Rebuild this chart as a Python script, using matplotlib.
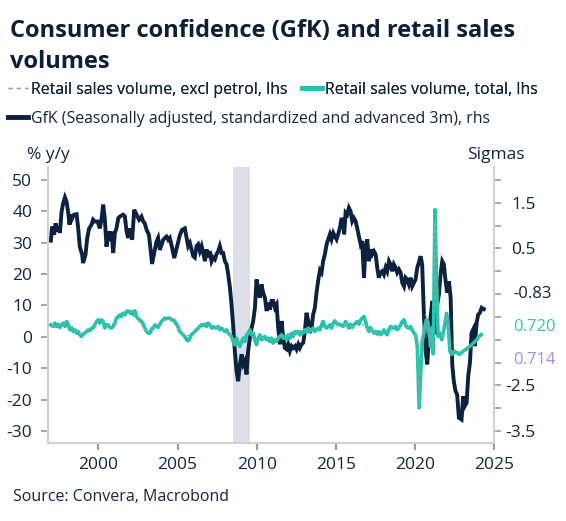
import matplotlib
matplotlib.use('Agg')
import matplotlib.pyplot as plt
from matplotlib.lines import Line2D
from matplotlib.ticker import FixedLocator, FuncFormatter

# GfK consumer confidence, standardized, advanced 3m (sigmas, rhs)
gfk_years = [1996.99, 1997.07, 1997.20, 1997.29, 1997.41, 1997.50, 1997.56, 1997.67, 1997.77, 1997.88,
             1997.98, 1998.08, 1998.17, 1998.26, 1998.34, 1998.45, 1998.62, 1998.72, 1998.82, 1998.97,
             1999.03, 1999.18, 1999.29, 1999.41, 1999.56, 1999.66, 1999.77, 1999.94, 2000.09, 2000.20,
             2000.30, 2000.40, 2000.51, 2000.61, 2000.72, 2000.83, 2000.93, 2001.04, 2001.14, 2001.25,
             2001.35, 2001.56, 2001.67, 2001.78, 2001.88, 2001.99, 2002.13, 2002.26, 2002.41, 2002.57,
             2002.72, 2002.83, 2002.93, 2003.04, 2003.19, 2003.31, 2003.39, 2003.52, 2003.67, 2003.77,
             2003.88, 2003.99, 2004.09, 2004.20, 2004.30, 2004.41, 2004.51, 2004.66, 2004.79, 2004.89,
             2005.00, 2005.15, 2005.29, 2005.46, 2005.57, 2005.67, 2005.78, 2005.88, 2005.99, 2006.09,
             2006.20, 2006.30, 2006.41, 2006.52, 2006.62, 2006.73, 2006.83, 2006.93, 2007.04, 2007.15,
             2007.25, 2007.36, 2007.46, 2007.57, 2007.67, 2007.78, 2007.88, 2007.99, 2008.10, 2008.20,
             2008.31, 2008.41, 2008.51, 2008.62, 2008.73, 2008.83, 2008.94, 2009.05, 2009.15, 2009.25,
             2009.36, 2009.46, 2009.57, 2009.68, 2009.78, 2009.89, 2009.99, 2010.10, 2010.20, 2010.31,
             2010.41, 2010.52, 2010.63, 2010.73, 2010.83, 2010.94, 2011.04, 2011.15, 2011.26, 2011.36,
             2011.47, 2011.57, 2011.68, 2011.78, 2011.89, 2011.99, 2012.10, 2012.21, 2012.31, 2012.42,
             2012.52, 2012.63, 2012.73, 2012.84, 2012.94, 2013.05, 2013.15, 2013.26, 2013.36, 2013.47,
             2013.57, 2013.68, 2013.79, 2013.89, 2014.00, 2014.10, 2014.20, 2014.31, 2014.42, 2014.52,
             2014.63, 2014.73, 2014.84, 2014.94, 2015.05, 2015.15, 2015.26, 2015.37, 2015.47, 2015.53,
             2015.62, 2015.72, 2015.83, 2015.93, 2016.04, 2016.14, 2016.25, 2016.35, 2016.46, 2016.57,
             2016.67, 2016.78, 2016.88, 2016.99, 2017.09, 2017.20, 2017.30, 2017.41, 2017.52, 2017.62,
             2017.72, 2017.83, 2017.93, 2018.04, 2018.15, 2018.25, 2018.36, 2018.46, 2018.57, 2018.67,
             2018.78, 2018.88, 2018.99, 2019.10, 2019.20, 2019.31, 2019.41, 2019.51, 2019.62, 2019.73,
             2019.83, 2019.94, 2020.04, 2020.15, 2020.25, 2020.36, 2020.46, 2020.57, 2020.68, 2020.78,
             2020.89, 2020.99, 2021.10, 2021.20, 2021.31, 2021.41, 2021.52, 2021.62, 2021.73, 2021.83,
             2021.94, 2022.04, 2022.15, 2022.26, 2022.36, 2022.46, 2022.57, 2022.67, 2022.78, 2022.95,
             2023.05, 2023.16, 2023.27, 2023.37, 2023.48, 2023.58, 2023.69, 2023.79, 2023.90, 2024.00,
             2024.11, 2024.22, 2024.36]
gfk_sigma = [0.67, 0.98, 0.80, 1.05, 0.87, 0.98, 0.84, 1.31, 1.49, 1.62,
             1.53, 1.31, 1.02, 1.24, 1.16, 1.24, 1.25, 0.94, 0.54, 0.36,
             0.18, 0.36, 0.73, 0.94, 1.02, 1.13, 1.09, 1.09, 0.94, 1.16,
             1.46, 1.16, 0.54, 0.87, 0.76, 0.87, 0.40, 0.84, 0.94, 1.16,
             1.20, 1.24, 1.20, 0.87, 0.73, 0.94, 0.69, 1.35, 1.24, 1.13,
             1.20, 1.09, 1.05, 0.91, 0.80, 0.43, 0.16, 0.40, 0.65, 0.73,
             0.47, 0.58, 0.69, 0.73, 0.76, 0.69, 0.73, 0.51, 0.29, 0.43,
             0.58, 0.80, 0.91, 0.94, 0.73, 0.55, 0.62, 0.48, 0.33, 0.30,
             0.55, 0.59, 0.44, 0.55, 0.40, 0.22, 0.48, 0.30, 0.44, 0.22,
             0.30, 0.26, 0.37, 0.44, 0.55, 0.40, 0.40, 0.22, 0.15, -0.07,
             -0.36, -0.73, -1.17, -1.75, -2.19, -2.41, -2.04, -1.82, -2.04, -1.97,
             -2.26, -1.75, -1.46, -1.24, -1.09, -0.80, -0.18, -0.40, -0.58, -0.29,
             -0.47, -0.58, -0.87, -0.69, -0.84, -0.65, -0.65, -0.80, -0.73, -1.24,
             -1.60, -1.09, -1.46, -1.68, -1.71, -1.60, -1.75, -1.64, -1.68, -1.64,
             -1.71, -1.60, -1.68, -1.60, -1.57, -1.31, -0.91, -1.09, -1.35, -1.24,
             -0.95, -0.80, -0.45, -0.20, 0.02, -0.03, 0.22, 0.37, 0.59, 0.70,
             0.81, 0.70, 0.84, 0.77, 0.70, 0.81, 0.95, 1.17, 1.06, 0.81,
             1.28, 1.24, 1.39, 1.32, 1.10, 1.17, 1.10, 0.95, 0.77, 0.59,
             0.66, -0.14, 0.51, 0.70, 0.22, 0.48, 0.37, 0.44, 0.37, 0.08,
             -0.14, -0.03, 0.00, -0.07, 0.08, 0.00, 0.22, 0.15, 0.00, 0.15,
             0.08, -0.03, 0.04, -0.03, -0.25, -0.33, -0.14, -0.18, -0.29, -0.14,
             -0.33, -0.25, -0.18, 0.08, 0.19, 0.33, 0.15, -0.95, -1.75, -2.04,
             -1.46, -1.02, -0.65, -1.02, -1.38, -0.73, -0.51, -0.07, 0.22, 0.15,
             -0.22, -0.47, -0.22, -0.58, -2.04, -2.41, -2.63, -2.70, -3.21, -3.25,
             -2.74, -2.95, -2.88, -2.30, -2.00, -1.35, -1.27, -1.64, -1.13, -0.95,
             -0.91, -0.80, -0.83]

# Retail sales volume, total (% y/y, lhs)
retail_years = [1996.99, 1997.14, 1997.24, 1997.35, 1997.45, 1997.56, 1997.67, 1997.77, 1997.88, 1997.98,
                1998.08, 1998.19, 1998.30, 1998.40, 1998.51, 1998.62, 1998.72, 1998.82, 1998.93, 1999.03,
                1999.14, 1999.25, 1999.35, 1999.46, 1999.56, 1999.66, 1999.77, 1999.88, 1999.98, 2000.09,
                2000.20, 2000.30, 2000.40, 2000.51, 2000.61, 2000.72, 2000.83, 2000.93, 2001.04, 2001.14,
                2001.25, 2001.35, 2001.46, 2001.56, 2001.67, 2001.78, 2001.88, 2001.99, 2002.09, 2002.19,
                2002.30, 2002.41, 2002.51, 2002.62, 2002.72, 2002.83, 2002.93, 2003.04, 2003.14, 2003.25,
                2003.36, 2003.46, 2003.57, 2003.67, 2003.77, 2003.88, 2003.99, 2004.09, 2004.20, 2004.30,
                2004.41, 2004.51, 2004.62, 2004.72, 2004.83, 2004.94, 2005.04, 2005.15, 2005.25, 2005.36,
                2005.46, 2005.57, 2005.67, 2005.78, 2005.88, 2005.99, 2006.09, 2006.20, 2006.30, 2006.41,
                2006.52, 2006.62, 2006.73, 2006.83, 2006.93, 2007.04, 2007.15, 2007.25, 2007.36, 2007.46,
                2007.57, 2007.67, 2007.78, 2007.88, 2007.99, 2008.10, 2008.20, 2008.31, 2008.41, 2008.51,
                2008.62, 2008.73, 2008.83, 2008.94, 2009.05, 2009.15, 2009.25, 2009.36, 2009.46, 2009.57,
                2009.68, 2009.78, 2009.89, 2009.99, 2010.10, 2010.20, 2010.31, 2010.41, 2010.52, 2010.63,
                2010.73, 2010.83, 2010.94, 2011.04, 2011.15, 2011.26, 2011.36, 2011.47, 2011.57, 2011.68,
                2011.78, 2011.89, 2011.99, 2012.10, 2012.21, 2012.31, 2012.42, 2012.52, 2012.63, 2012.73,
                2012.84, 2012.94, 2013.05, 2013.15, 2013.26, 2013.36, 2013.47, 2013.57, 2013.68, 2013.89,
                2014.00, 2014.10, 2014.20, 2014.31, 2014.42, 2014.52, 2014.63, 2014.73, 2014.84, 2014.94,
                2015.05, 2015.15, 2015.26, 2015.37, 2015.47, 2015.62, 2015.72, 2015.83, 2015.93, 2016.04,
                2016.14, 2016.25, 2016.35, 2016.46, 2016.57, 2016.67, 2016.78, 2016.88, 2016.99, 2017.09,
                2017.20, 2017.30, 2017.41, 2017.52, 2017.62, 2017.72, 2017.83, 2017.93, 2018.04, 2018.15,
                2018.25, 2018.36, 2018.46, 2018.57, 2018.67, 2018.78, 2018.88, 2018.99, 2019.10, 2019.20,
                2019.31, 2019.41, 2019.51, 2019.62, 2019.73, 2019.83, 2019.94, 2020.04, 2020.15, 2020.27,
                2020.36, 2020.46, 2020.57, 2020.68, 2020.78, 2020.89, 2020.99, 2021.06, 2021.16, 2021.27,
                2021.37, 2021.47, 2021.58, 2021.69, 2021.79, 2021.90, 2022.00, 2022.11, 2022.21, 2022.32,
                2022.42, 2022.53, 2022.64, 2022.74, 2022.84, 2022.95, 2023.05, 2023.27, 2023.48, 2023.69,
                2023.90, 2024.06, 2024.20]
retail_total = [3.84, 3.31, 4.37, 3.31, 4.05, 2.98, 3.84, 4.37, 3.31, 4.89,
                4.05, 2.24, 2.98, 1.70, 2.24, 1.19, 1.70, 0.65, 0.12, 0.88,
                1.19, 1.70, 2.24, 1.93, 2.79, 2.79, 3.84, 4.89, 5.43, 4.37,
                5.43, 4.89, 2.79, 3.84, 3.84, 2.98, 2.79, 3.31, 4.37, 5.97,
                6.48, 7.02, 6.48, 7.56, 7.02, 8.07, 8.29, 7.56, 8.07, 7.02,
                8.29, 6.48, 5.75, 5.43, 4.89, 4.05, 2.79, 1.70, 1.19, 1.19,
                2.58, 2.79, 3.84, 3.31, 2.98, 4.05, 4.89, 5.43, 5.97, 5.75,
                5.97, 5.97, 5.43, 5.43, 4.89, 4.05, 2.98, 1.70, 1.19, 0.65,
                0.12, -0.94, -1.26, -0.41, 0.65, 1.19, 1.70, 2.24, 2.79, 3.31,
                3.84, 3.62, 4.05, 3.31, 4.37, 3.84, 2.79, 3.31, 2.98, 2.79,
                3.31, 2.24, 2.79, 2.24, 1.70, 2.24, 1.19, 0.65, 0.12, -1.48,
                -2.53, -0.41, -2.00, -3.07, -1.48, -0.41, -1.48, 0.65, 1.19, 2.24,
                0.65, 1.19, -0.94, -2.53, -0.41, 0.65, -0.94, -0.41, 0.12, -0.94,
                -0.41, -1.48, -0.41, -2.00, -0.94, -1.48, -0.41, 0.12, 0.65, -0.41,
                0.12, -0.94, 0.65, -0.41, 1.19, 0.12, 1.70, 1.19, 1.70, 0.65,
                1.70, 1.19, 2.24, 1.70, 2.79, 1.70, 2.24, 2.79, 1.70, 2.79,
                2.24, 3.84, 4.89, 3.31, 2.79, 3.31, 3.84, 2.79, 4.37, 5.11,
                4.37, 3.84, 4.05, 3.62, 3.31, 4.89, 3.84, 2.79, 4.05, 2.98,
                3.84, 4.37, 4.89, 4.05, 5.43, 5.97, 6.48, 4.89, 2.79, 1.70,
                2.98, 1.93, 1.19, 1.70, 0.88, 1.70, 0.65, 1.19, 2.24, 1.19,
                0.65, 2.24, 3.31, 2.98, 2.79, 3.31, 2.24, 2.79, 3.84, 4.89,
                5.43, 3.84, 2.98, 2.79, 3.31, 2.24, 1.19, 0.65, -3.07, -22.6,
                -12.5, -1.5, 1.2, 4.5, 5.4, 3.0, -3.1, 2.5, -5.4, 40.5,
                18.2, 0.12, 1.18, -0.94, 1.18, 4.37, 7.5, 3.31, -4.5, -5.6,
                -5.3, -4.6, -5.0, -5.3, -5.6, -5.0, -4.6, -3.8, -3.0, -2.00,
                -0.94, 0.12, 0.72]

# Retail sales volume, excl petrol (% y/y, lhs)
exfuel_years = [1997.0, 1997.5, 1998.0, 1998.5, 1999.0, 1999.5, 2000.0, 2000.5, 2001.0, 2001.5,
                2002.0, 2002.5, 2003.0, 2003.5, 2004.0, 2004.5, 2005.0, 2005.5, 2006.0, 2006.5,
                2007.0, 2007.5, 2008.0, 2008.5, 2009.0, 2009.5, 2010.0, 2010.5, 2011.0, 2011.5,
                2012.0, 2012.5, 2013.0, 2013.5, 2014.0, 2014.5, 2015.0, 2015.5, 2016.0, 2016.5,
                2017.0, 2017.5, 2018.0, 2018.5, 2019.0, 2019.5, 2020.0, 2020.15, 2020.27, 2020.36,
                2020.46, 2020.57, 2020.68, 2020.78, 2020.89, 2020.99, 2021.06, 2021.16, 2021.27, 2021.37,
                2021.47, 2021.58, 2021.69, 2021.79, 2021.90, 2022.0, 2022.11, 2022.21, 2022.5, 2023.0,
                2023.5, 2024.0, 2024.2]
exfuel_vals = [3.8, 3.5, 4.5, 2.0, 0.5, 2.5, 5.0, 3.5, 4.5, 7.0,
               8.0, 5.5, 1.8, 3.0, 4.8, 5.8, 3.0, 0.0, 1.5, 3.8,
               3.8, 3.0, 2.0, -0.5, -2.0, 1.2, -1.5, -0.2, -1.0, 0.3,
               0.5, 1.5, 2.0, 2.5, 2.5, 3.3, 4.5, 4.2, 3.5, 5.0,
               2.2, 1.5, 1.8, 3.0, 3.0, 3.0, 1.0, -3.5, -21.5, -11.0,
               -0.5, 2.0, 7.0, 6.0, 3.5, -2.0, 3.5, -4.0, 37.0, 17.0,
               1.0, 2.0, 0.5, 2.0, 5.0, 7.5, 3.0, -4.0, -4.8, -4.8,
               -3.0, -0.5, 0.71]

recession = (2008.5, 2009.58)
x_ticks = [2000, 2005, 2010, 2015, 2020, 2025]
left_ticks = [-30, -20, -10, 0, 10, 20, 30, 40, 50]
right_ticks = [-3.5, -3.0, -2.5, -2.0, -1.5, -1.0, -0.5, 0.0, 0.5, 1.0, 1.5, 2.0]
right_labelled = [1.5, 0.5, -2.5, -3.5]

navy = '#0b2140'
teal = '#22c4ad'
text_col = '#0f2540'
spine_col = '#d2d2d2'
tick_col = '#9a9a9a'

plt.rcParams['font.family'] = ['Open Sans', 'DejaVu Sans']
plt.rcParams['axes.unicode_minus'] = False

fig = plt.figure(figsize=(5.66, 5.21), dpi=100)
ax2 = fig.add_axes([48.3 / 566, 1 - 443.3 / 521, (494 - 48.3) / 566, (443.3 - 167) / 521])
ax = ax2.twinx()
ax.yaxis.tick_left()
ax.yaxis.set_label_position('left')
ax2.yaxis.tick_right()
ax.set_zorder(ax2.get_zorder() + 1)
ax.patch.set_visible(False)

ax2.axvspan(recession[0], recession[1], color='#dcdfe7', lw=0, zorder=0)
ax2.plot(gfk_years, gfk_sigma, color=navy, lw=2.8, solid_joinstyle='miter', zorder=3)
ax.plot(retail_years, retail_total, color=teal, lw=2.6, zorder=3)
ax.plot(exfuel_years, exfuel_vals, color='#8fa8a2', lw=0.8, dashes=(3, 3), zorder=4)

ax.set_xlim(1996.83, 2025.0)
ax.set_ylim(-33.9, 54.1)
ax2.set_ylim(-3.77, 2.285)

for a in (ax, ax2):
    for s in a.spines.values():
        s.set_color(spine_col)
        s.set_linewidth(1.5)
    a.spines['top'].set_visible(False)

ax2.xaxis.set_major_locator(FixedLocator(x_ticks))
ax2.tick_params(axis='x', length=5, width=1.5, color=tick_col, labelsize=12.5,
                labelcolor=text_col, pad=5)
ax.tick_params(axis='x', bottom=False, labelbottom=False)

ax.yaxis.set_major_locator(FixedLocator(left_ticks))
ax.tick_params(axis='y', length=5, width=1.2, color=tick_col, labelsize=12.5,
               labelcolor=text_col, pad=6.5)

ax2.yaxis.set_major_locator(FixedLocator(right_ticks))
ax2.yaxis.set_major_formatter(FuncFormatter(lambda v, p: f'{v:g}' if v in right_labelled else ''))
ax2.tick_params(axis='y', length=5, width=1.2, color=tick_col, labelsize=12.5,
                labelcolor=text_col, pad=25)
plt.setp(ax2.get_yticklabels(), ha='right')

# last-value labels on the right
ax2.annotate('-0.83', xy=(1, gfk_sigma[-1]), xycoords=('axes fraction', 'data'),
             xytext=(14, 10.9), textcoords='offset points', ha='left', va='center',
             fontsize=12, color=navy)
ax.annotate('0.720', xy=(1, retail_total[-1]), xycoords=('axes fraction', 'data'),
            xytext=(14, 5.8), textcoords='offset points', ha='left', va='center',
            fontsize=12, color='#2ec4b6')
ax.annotate('0.714', xy=(1, exfuel_vals[-1]), xycoords=('axes fraction', 'data'),
            xytext=(14, -18), textcoords='offset points', ha='left', va='center',
            fontsize=12, color='#9b8cf0')

# title, legend, axis units, source
fig.text(10 / 566, 1 - 19 / 521, 'Consumer confidence (GfK) and retail sales\nvolumes',
         ha='left', va='top', fontsize=17, fontweight='bold', color='#0b1f3a', linespacing=1.4)

h_ex = Line2D([], [], color='#8fa8a2', lw=1.0, dashes=(3, 3))
h_tot = Line2D([], [], color=teal, lw=3.5)
h_gfk = Line2D([], [], color=navy, lw=3.5)
leg1 = fig.legend([h_ex, h_tot], ['Retail sales volume, excl petrol, lhs', 'Retail sales volume, total, lhs'],
                  loc='center left', bbox_to_anchor=(8 / 566, 1 - 90 / 521), ncol=2, frameon=False,
                  fontsize=11.4, handlelength=1.25, handletextpad=0.2, columnspacing=0.9,
                  borderaxespad=0, borderpad=0, labelcolor=text_col)
fig.legend([h_gfk], ['GfK (Seasonally adjusted, standardized and advanced 3m), rhs'],
           loc='center left', bbox_to_anchor=(8 / 566, 1 - 119 / 521), frameon=False,
           fontsize=11.4, handlelength=1.25, handletextpad=0.2, borderaxespad=0, borderpad=0,
           labelcolor=text_col)
fig.add_artist(leg1)

fig.text(27 / 566, 1 - 155 / 521, '% y/y', ha='left', va='center', fontsize=12.5, color=text_col)
fig.text(467 / 566, 1 - 155 / 521, 'Sigmas', ha='left', va='center', fontsize=12.5, color=text_col)
fig.text(13 / 566, 1 - 497 / 521, 'Source: Convera, Macrobond', ha='left', va='center',
         fontsize=11.5, color=text_col)

fig.savefig('out.png', dpi=100)
